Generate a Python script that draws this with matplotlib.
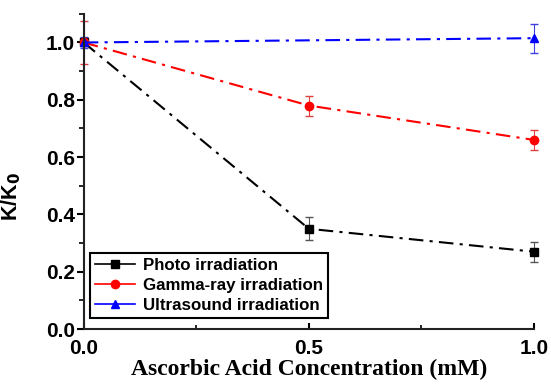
import numpy as np
import matplotlib.pyplot as plt
from matplotlib.lines import Line2D
from matplotlib.ticker import MultipleLocator

conc = [0.0, 0.5, 1.0]
photo = [1.0, 0.35, 0.27]
photo_err = [0.0, 0.04, 0.035]
gamma = [1.0, 0.78, 0.66]
gamma_err = [0.075, 0.035, 0.035]
ultra_x = [0.0, 1.0]
ultra = [1.0, 1.015]
ultra_err = [0.02, 0.05]

labels = ["Photo irradiation", "Gamma-ray irradiation", "Ultrasound irradiation"]
colors = ["black", "red", "blue"]
markers = ["s", "o", "^"]

plt.rcParams["font.family"] = ["Liberation Sans", "DejaVu Sans"]

fig = plt.figure(figsize=(5.51, 3.84), dpi=100)
ax = fig.add_axes([0.152, 0.143, 0.817, 0.821])

style = dict(linestyle=(0, (7, 3, 1.5, 3)), lw=1.5, markersize=6,
             elinewidth=0.8, capsize=3, clip_on=False)
ax.errorbar(conc, photo, yerr=photo_err, color=colors[0], marker=markers[0],
            ecolor="#555555", **style)
ax.errorbar(conc, gamma, yerr=gamma_err, color=colors[1], marker=markers[1],
            ecolor="#e04040", **style)
ax.errorbar(ultra_x, ultra, yerr=ultra_err, color=colors[2], marker=markers[2],
            ecolor="#4040e0", **style)

ax.set_xlim(0, 1.0)
ax.set_ylim(0, 1.1)
ax.xaxis.set_major_locator(MultipleLocator(0.5))
ax.xaxis.set_minor_locator(MultipleLocator(0.25))
ax.yaxis.set_major_locator(MultipleLocator(0.2))
ax.yaxis.set_minor_locator(MultipleLocator(0.1))
ax.xaxis.set_major_formatter(plt.FormatStrFormatter("%.1f"))
ax.yaxis.set_major_formatter(plt.FormatStrFormatter("%.1f"))

for s in ["top", "right"]:
    ax.spines[s].set_visible(False)
for s in ["left", "bottom"]:
    ax.spines[s].set_linewidth(1.5)
    ax.spines[s].set_color("#222222")

ax.tick_params(axis="y", which="major", direction="out", length=5, width=1.5, labelsize=15, pad=1.5)
ax.tick_params(axis="y", which="minor", direction="out", length=3.5, width=1.2)
ax.tick_params(axis="x", which="major", direction="in", length=4, width=1.5, labelsize=15, pad=7)
ax.tick_params(axis="x", which="minor", direction="in", length=3, width=1.2)
for lab in ax.get_xticklabels() + ax.get_yticklabels():
    lab.set_fontweight("bold")

ax.set_xlabel("Ascorbic Acid Concentration (mM)", fontsize=17, fontweight="bold",
              family="Liberation Serif", labelpad=1)
ax.set_ylabel(r"K/K$_\mathbf{0}$", fontsize=15.5, fontweight="bold")
ax.yaxis.set_label_coords(-0.135, 0.42)

handles = [Line2D([], [], color=c, marker=m, markersize=6, lw=1.2)
           for c, m in zip(colors, markers)]
leg = ax.legend(handles, labels, loc="lower left", bbox_to_anchor=(0.013, 0.035),
                borderaxespad=0, fancybox=False, edgecolor="black", framealpha=1,
                prop={"weight": "bold", "size": 12.2},
                handlelength=2.35, handletextpad=0.5, borderpad=0.3, labelspacing=0.3)
leg.get_frame().set_linewidth(1.5)

fig.savefig("out.png", dpi=100)
